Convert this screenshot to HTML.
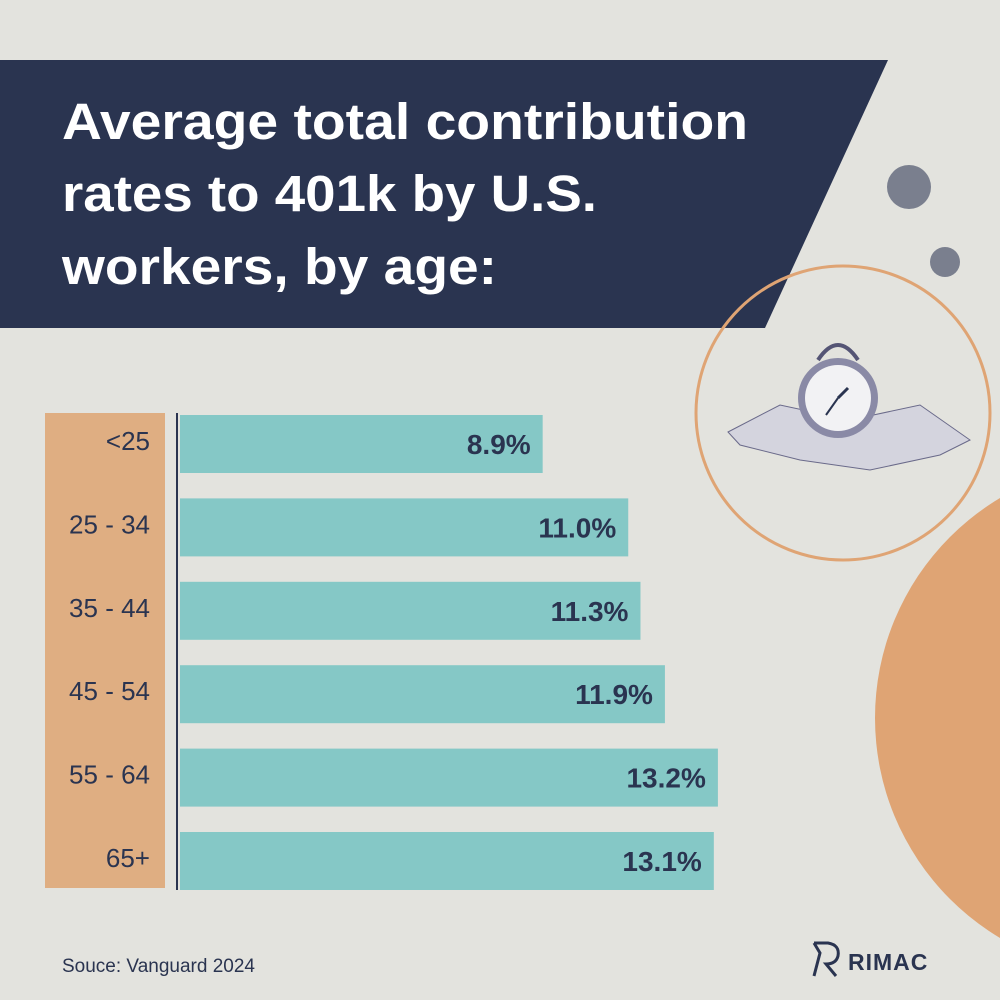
<!DOCTYPE html>
<html><head><meta charset="utf-8"><style>
html,body{margin:0;padding:0}
body{width:1000px;height:1000px;background:#e3e3de;position:relative;overflow:hidden;font-family:"Liberation Sans",sans-serif;color:#2a3450}
</style></head><body>
<svg width="1000" height="1000" style="position:absolute;left:0;top:0">
  <circle cx="1131" cy="718" r="256" fill="#dfa474"/>
  <polygon points="0,60 888,60 765,328 0,328" fill="#2a3450"/>
  <circle cx="843" cy="413" r="147" fill="none" stroke="#dfa474" stroke-width="3"/>
  <circle cx="909" cy="187" r="22" fill="#7a7f8e"/>
  <circle cx="945" cy="262" r="15" fill="#7a7f8e"/>
  <g font-family="Liberation Sans, sans-serif" font-weight="bold" font-size="51" fill="#ffffff">
    <text x="62" y="139" textLength="686" lengthAdjust="spacingAndGlyphs">Average total contribution</text>
    <text x="62" y="211" textLength="535" lengthAdjust="spacingAndGlyphs">rates to 401k by U.S.</text>
    <text x="62" y="284" textLength="435" lengthAdjust="spacingAndGlyphs">workers, by age:</text>
  </g>
  <g>
    <polygon points="728,432 780,405 850,420 920,405 970,440 940,455 870,470 800,460 740,445" fill="#d4d4de" stroke="#6a6a8a" stroke-width="1"/>
    <path d="M818,360 Q838,330 858,360" fill="none" stroke="#555575" stroke-width="4"/>
    <circle cx="838" cy="398" r="40" fill="#8a8aa6"/>
    <circle cx="838" cy="398" r="33" fill="#f2f2f4"/>
    <line x1="838" y1="398" x2="848" y2="388" stroke="#2a3450" stroke-width="3"/>
    <line x1="838" y1="398" x2="826" y2="415" stroke="#2a3450" stroke-width="2"/>
  </g>
  <rect x="45" y="413" width="120" height="475" fill="#dfae82"/>
  <line x1="177" y1="413" x2="177" y2="890" stroke="#2a3450" stroke-width="2"/>
  <g id="bars"></g>
  <text x="62" y="972" font-size="19" fill="#2a3450">Souce: Vanguard 2024</text>
  <g>
    <path d="M814,943 L828,943 Q840,945 838,956 Q836,964 826,964 L836,976 M814,943 L820,953 L814,976" fill="none" stroke="#2a3450" stroke-width="3"/>
    <text x="848" y="970" font-size="23" font-weight="bold" fill="#2a3450" letter-spacing="1">RIMAC</text>
  </g>
</svg>
<script>
const categories = ["<25","25 - 34","35 - 44","45 - 54","55 - 64","65+"];
const values = [8.9, 11.0, 11.3, 11.9, 13.2, 13.1];
const valueLabels = ["8.9%","11.0%","11.3%","11.9%","13.2%","13.1%"];
const ns="http://www.w3.org/2000/svg";
const g=document.getElementById('bars');
const x0=180, pxPer=40.75, y0=415, step=83.4, bh=58;
function xs(v){return v*pxPer;}
function ys(i){return y0+i*step;}
categories.forEach((c,i)=>{
  const y=ys(i), w=xs(values[i]);
  const r=document.createElementNS(ns,'rect');
  
  
  r.setAttribute('x',x0);r.setAttribute('y',y);r.setAttribute('width',w);r.setAttribute('height',bh);r.setAttribute('fill','#85c8c6');
  g.appendChild(r);
  const t=document.createElementNS(ns,'text');
  
  
  t.setAttribute('x',x0+w-12);t.setAttribute('y',y+bh/2+10);t.setAttribute('text-anchor','end');
  t.setAttribute('font-size','28');t.setAttribute('font-weight','bold');t.setAttribute('fill','#2a3450');
  t.textContent=valueLabels[i];g.appendChild(t);
  const l=document.createElementNS(ns,'text');
  
  
  l.setAttribute('x',150);l.setAttribute('y',y+bh/2+6);l.setAttribute('text-anchor','end');
  l.setAttribute('font-size','26');l.setAttribute('fill','#2a3450');
  l.textContent=c;g.appendChild(l);
});
</script>
</body></html>
